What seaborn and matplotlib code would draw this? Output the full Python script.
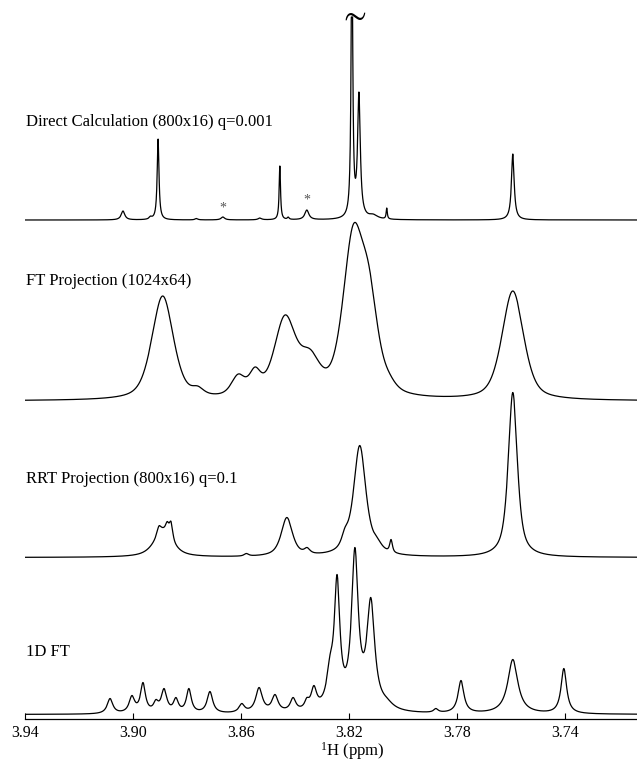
import numpy as np
import pandas as pd
import matplotlib
matplotlib.use("Agg")
import matplotlib.pyplot as plt
import seaborn as sns

# ---------------- data ----------------
# each trace: peak centre (ppm), apex intensity, line width (FWHM, ppm)
direct_ppm    = [3.9037, 3.8935, 3.8907, 3.8765, 3.8667, 3.8530, 3.8456, 3.8425, 3.8356,
                 3.8205, 3.8189, 3.8163, 3.8110, 3.8060, 3.7593]
direct_height = [9, 4, 81, 1.5, 3, 2, 54, 3, 10, 13, 300, 128, 6, 12, 66]
direct_width  = [0.0016, 0.0012, 0.0008, 0.0012, 0.0016, 0.0015, 0.0006, 0.0008, 0.0018,
                 0.0012, 0.0007, 0.0012, 0.0040, 0.0005, 0.0012]

ftproj_ppm    = [3.9030, 3.8890, 3.8760, 3.8610, 3.8548, 3.8437, 3.8344, 3.8185, 3.8125,
                 3.8050, 3.7593]
ftproj_height = [6, 105, 15, 27, 34, 86, 52, 176, 134, 28, 110]
ftproj_width  = [0.006, 0.0095, 0.005, 0.006, 0.005, 0.0095, 0.009, 0.009, 0.008, 0.006, 0.0095]

rrt_ppm    = [3.8904, 3.8888, 3.8873, 3.8859, 3.8580, 3.8430, 3.8355, 3.8215, 3.8160,
              3.8095, 3.8044, 3.7593]
rrt_height = [31.5, 30, 36, 36, 4, 40, 10, 30, 112, 20, 18, 165]
rrt_width  = [0.0018, 0.008, 0.0015, 0.0015, 0.002, 0.005, 0.0025, 0.003, 0.0055, 0.004,
              0.0012, 0.004]

ft1d_ppm    = [3.9085, 3.9004, 3.8963, 3.8915, 3.8885, 3.8841, 3.8793, 3.8715, 3.8597,
               3.8533, 3.8474, 3.8407, 3.8356, 3.8330, 3.8270, 3.8244, 3.8178, 3.8119,
               3.8060, 3.7878, 3.7785, 3.7593, 3.7404]
ft1d_height = [16, 19, 32, 15, 26, 17, 26, 23, 11, 27, 20, 17, 17, 29, 60, 140, 167, 117,
               17, 6, 34, 55, 46]
ft1d_width  = [0.0025, 0.0025, 0.0022, 0.0022, 0.0025, 0.0022, 0.0022, 0.0025, 0.0025,
               0.0030, 0.0028, 0.0025, 0.0020, 0.0025, 0.0030, 0.0025, 0.0030, 0.0035,
               0.0060, 0.0020, 0.0026, 0.0045, 0.0025]

trace_labels = ["Direct Calculation (800x16) q=0.001", "FT Projection (1024x64)",
                "RRT Projection (800x16) q=0.1", "1D FT"]
asterisk_ppm = [3.8667, 3.8356]
tick_values = [3.94, 3.90, 3.86, 3.82, 3.78, 3.74]
tick_labels = ["3.94", "3.90", "3.86", "3.82", "3.78", "3.74"]
x_label = "$^{1}$H (ppm)"

# ---------------- layout / style ----------------
W, H = 637, 761
x_left, x_right = 3.94, 3.7133
offsets = [499, 318, 161.5, 4.5]          # baseline of each trace (px above axis)
label_y = [593, 434, 236, 63]
eta = [1.0, 0.5, 0.75, 1.0]                # lorentzian fraction of the line shape
direct_clip = 203
star_y = [511, 519]


def profile(x, c, w, e):
    hw = w / 2.0
    r = (x - c) / hw
    return e / (1.0 + r ** 2) + (1.0 - e) * np.exp(-np.log(2) * r ** 2)


def spectrum(x, ppm, apex, width, e):
    c = np.asarray(ppm, float)
    a = np.asarray(apex, float)
    w = np.asarray(width, float)
    A = profile(c[:, None], c[None, :], w[None, :], e)
    active = np.ones(len(c), bool)
    amp = np.zeros(len(c))
    for _ in range(20):
        amp = np.zeros(len(c))
        amp[active] = np.linalg.solve(A[np.ix_(active, active)], a[active])
        if (amp >= 0).all():
            break
        active &= amp > 0
    return (profile(x[:, None], c[None, :], w[None, :], e) * amp[None, :]).sum(axis=1)


x = np.linspace(x_right, x_left, 6000)
traces = [
    (direct_ppm, direct_height, direct_width),
    (ftproj_ppm, ftproj_height, ftproj_width),
    (rrt_ppm, rrt_height, rrt_width),
    (ft1d_ppm, ft1d_height, ft1d_width),
]
frames = []
for i, (p, h, w) in enumerate(traces):
    y = spectrum(x, p, h, w, eta[i])
    if i == 0:
        y = np.minimum(y, direct_clip)
    frames.append(pd.DataFrame({"ppm": x, "y": y + offsets[i], "trace": trace_labels[i]}))
df = pd.concat(frames, ignore_index=True)

sns.set_theme(style="white")
plt.rcParams["font.family"] = ["Liberation Serif", "DejaVu Serif"]
plt.rcParams["mathtext.fontset"] = "custom"
plt.rcParams["mathtext.rm"] = "Liberation Serif"
plt.rcParams["mathtext.default"] = "regular"

fig = plt.figure(figsize=(W / 100, H / 100), dpi=100)
ax = fig.add_axes([25 / W, 42 / H, 1 - 25 / W, 719 / H])
sns.lineplot(data=df, x="ppm", y="y", units="trace", estimator=None, color="black",
             linewidth=0.9, sort=False, ax=ax, legend=False)

ax.set_xlim(x_left, x_right)
ax.set_ylim(0, 719)
for s in ["left", "top", "right"]:
    ax.spines[s].set_visible(False)
ax.spines["bottom"].set_color("black")
ax.spines["bottom"].set_linewidth(0.9)
ax.set_yticks([])
ax.set_ylabel("")
ax.set_xticks(tick_values)
ax.set_xticklabels(tick_labels)
ax.tick_params(axis="x", direction="in", length=4, width=0.8, labelsize=11.5, pad=4,
               color="black", labelcolor="black", bottom=True)
ax.set_xlabel(x_label, fontsize=12, color="black")
ax.xaxis.set_label_coords((352 - 25) / 612, (719 - 740) / 719)

for lab, yy in zip(trace_labels, label_y):
    ax.text(3.9396, yy, lab, fontsize=12, ha="left", va="baseline", color="black")

for sp, sy in zip(asterisk_ppm, star_y):
    ax.text(sp, sy, "*", fontsize=10, ha="center", va="center", color="#555555")

ax.text(3.8188, 704, r"$\sim$", fontsize=24, ha="center", va="center", color="black")

fig.savefig("out.png", dpi=100)
